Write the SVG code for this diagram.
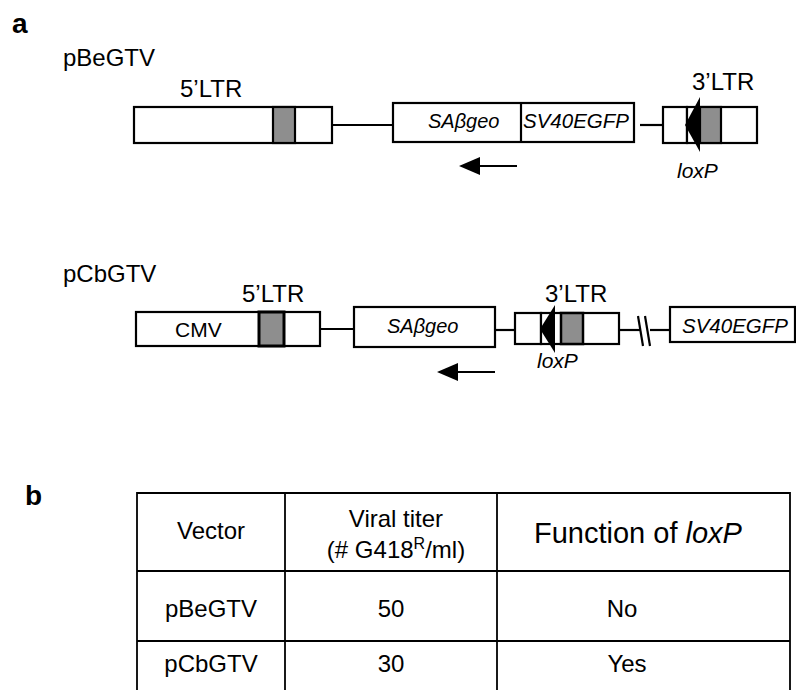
<svg xmlns="http://www.w3.org/2000/svg" width="796" height="690" viewBox="0 0 796 690">
<style>
text{font-family:"Liberation Sans",Arial,sans-serif;fill:#000}
.lbl{font-size:24px}
.it{font-style:italic;font-size:20px}
.bold{font-weight:bold;font-size:28px}
.box{fill:#fff;stroke:#000;stroke-width:2.2}
.gray{fill:#8e8e8e;stroke:#000;stroke-width:2.2}
.ln{stroke:#000;stroke-width:2.2;fill:none}
.tbl{stroke:#000;stroke-width:1.8;fill:none}
.c{text-anchor:middle}
</style>
<text class="bold" x="12" y="33">a</text>
<text class="lbl" x="63" y="66">pBeGTV</text>
<text class="lbl" x="63" y="282">pCbGTV</text>
<text class="bold" x="25" y="505">b</text>

<g id="connectors">
<line class="ln" x1="332" y1="125" x2="393" y2="125"/>
<line class="ln" x1="640" y1="125" x2="663" y2="125"/>
<line class="ln" x1="320" y1="329" x2="354" y2="329"/>
<line class="ln" x1="495" y1="330" x2="515" y2="330"/>
<line class="ln" x1="619" y1="330" x2="641" y2="330"/>
<line class="ln" x1="650" y1="330" x2="670" y2="330"/>
<line class="ln" x1="638" y1="316" x2="643" y2="346"/>
<line class="ln" x1="645" y1="316" x2="650" y2="346"/>
<line class="ln" x1="478" y1="166" x2="517" y2="166"/>
<polygon points="459,166 480,157 480,175" fill="#000"/>
<line class="ln" x1="456" y1="372" x2="495" y2="372"/>
<polygon points="437,372 458,363 458,381" fill="#000"/>
</g>

<g id="pBe-5LTR">
<rect class="box" x="134" y="107" width="198" height="36"/>
<rect class="gray" x="273" y="107" width="22" height="36"/>
<text class="lbl" x="180" y="97">5’LTR</text>
</g>
<g id="pBe-cassette">
<rect class="box" x="393" y="103" width="241" height="39"/>
<line class="ln" x1="521" y1="103" x2="521" y2="142"/>
<text class="it" x="428" y="128">SAβgeo</text>
<text class="it" x="523" y="128" style="font-size:20.5px">SV40EGFP</text>
</g>
<g id="pBe-3LTR">
<rect class="box" x="663" y="107" width="24" height="36"/>
<rect class="box" x="687" y="107" width="70" height="36"/>
<rect class="gray" x="700" y="107" width="21" height="36"/>
<polygon points="685,125 700,97 700,152" fill="#000"/>
<text class="lbl" x="692" y="90">3’LTR</text>
<text class="it" x="677" y="178" style="font-size:21px">loxP</text>
</g>

<g id="pCb-5LTR">
<rect class="box" x="136" y="312" width="184" height="34"/>
<rect class="gray" x="259" y="312" width="25" height="34" style="stroke-width:3"/>
<text class="lbl" x="242" y="302">5’LTR</text>
<text x="175" y="337" style="font-size:21px">CMV</text>
</g>
<g id="pCb-SAbgeo">
<rect class="box" x="354" y="307" width="141" height="40"/>
<text class="it" x="387" y="333">SAβgeo</text>
</g>
<g id="pCb-3LTR">
<rect class="box" x="515" y="313" width="26" height="31"/>
<rect class="box" x="541" y="313" width="78" height="31"/>
<rect class="gray" x="561" y="313" width="22" height="31" style="stroke-width:2.5"/>
<polygon points="540,329 555,305 555,353" fill="#000"/>
<text class="lbl" x="545" y="302">3’LTR</text>
<text class="it" x="537" y="368" style="font-size:21px">loxP</text>
</g>
<g id="pCb-SV40EGFP">
<rect class="box" x="670" y="307" width="125" height="35"/>
<text class="it" x="682" y="333" style="font-size:20.5px">SV40EGFP</text>
</g>

<g id="table">
<polyline class="tbl" points="137,690 137,493 790,493 790,690"/>
<line class="tbl" x1="285" y1="493" x2="285" y2="690"/>
<line class="tbl" x1="497" y1="493" x2="497" y2="690"/>
<line class="tbl" x1="137" y1="571" x2="790" y2="571"/>
<line class="tbl" x1="137" y1="641" x2="790" y2="641"/>
<text class="lbl c" x="211" y="539">Vector</text>
<text class="lbl c" x="396" y="527">Viral titer</text>
<text class="lbl c" x="396" y="558">(# G418<tspan dy="-9" style="font-size:16px">R</tspan><tspan dy="9">/ml)</tspan></text>
<text class="c" x="638" y="543" style="font-size:29px">Function of <tspan font-style="italic">loxP</tspan></text>
<text class="lbl c" x="211" y="617">pBeGTV</text>
<text class="lbl c" x="391" y="617">50</text>
<text class="lbl c" x="622" y="617">No</text>
<text class="lbl c" x="211" y="672">pCbGTV</text>
<text class="lbl c" x="391" y="672">30</text>
<text class="lbl c" x="627" y="672">Yes</text>
</g>
</svg>
